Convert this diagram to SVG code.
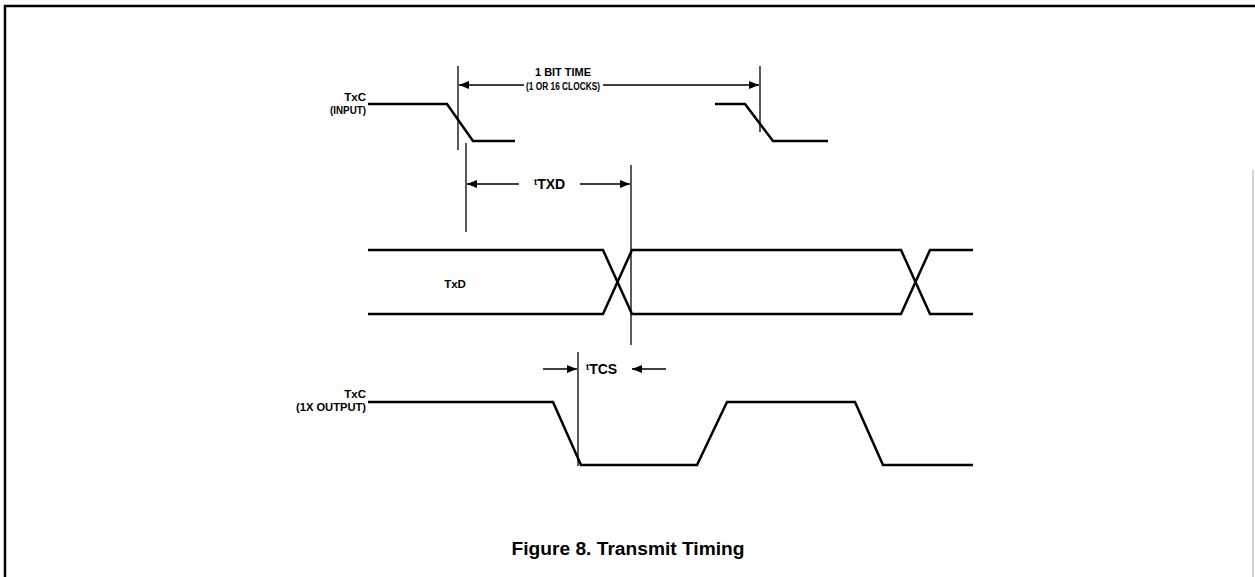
<svg xmlns="http://www.w3.org/2000/svg" width="1255" height="577" viewBox="0 0 1255 577">
<style>
.sig{fill:none;stroke:#000;stroke-width:2.5;stroke-linejoin:miter}
.dim{fill:none;stroke:#000;stroke-width:1.3}
.lbl{font-family:"Liberation Sans",Arial,sans-serif;font-weight:bold;font-size:11.5px;fill:#000}
.sub{font-family:"Liberation Sans",Arial,sans-serif;font-weight:bold;font-size:14px;fill:#000}
.cap{font-family:"Liberation Sans",Arial,sans-serif;font-weight:bold;font-size:18px;fill:#000}
</style>
<defs>
<marker id="ah" viewBox="0 0 10 10" refX="10" refY="5" markerWidth="10" markerHeight="10" markerUnits="userSpaceOnUse" orient="auto">
<path d="M0,1 L10,5 L0,9 z" fill="#000"/>
</marker>
</defs>
<rect width="1255" height="577" fill="#fff"/>
<g id="frame">
<path d="M5,577 V6 H1255" fill="none" stroke="#000" stroke-width="2.5"/>
<line x1="1253" y1="170" x2="1253" y2="577" stroke="#aaa" stroke-width="1"/>
</g>
<g id="txc-input">
<text class="lbl" x="366" y="101" text-anchor="end">TxC</text>
<text class="lbl" x="366" y="114" text-anchor="end" textLength="36" lengthAdjust="spacingAndGlyphs">(INPUT)</text>
<path class="sig" d="M368,104 H447 L473,141 H515"/>
<path class="sig" d="M715,104 H745 L773,141 H828"/>
</g>
<g id="txd">
<text class="lbl" x="455" y="288" text-anchor="middle">TxD</text>
<path class="sig" d="M368,250 H603 L632,314 H901 L930,250 H973"/>
<path class="sig" d="M368,314 H603 L632,250 H901 L930,314 H973"/>
</g>
<g id="txc-output">
<text class="lbl" x="366" y="398" text-anchor="end">TxC</text>
<text class="lbl" x="366" y="411" text-anchor="end" textLength="70" lengthAdjust="spacingAndGlyphs">(1X OUTPUT)</text>
<path class="sig" d="M368,402 H553 L581,465 H697 L727,402 H855 L883,465 H973"/>
</g>
<g id="connectors">
<line class="dim" x1="458" y1="66" x2="458" y2="150"/>
<line class="dim" x1="760" y1="66" x2="760" y2="132"/>
<line class="dim" x1="466" y1="143" x2="466" y2="232"/>
<line class="dim" x1="631" y1="165" x2="631" y2="345"/>
<line class="dim" x1="578" y1="352" x2="578" y2="466"/>
<line class="dim" x1="524" y1="85" x2="459" y2="85" marker-end="url(#ah)"/>
<line class="dim" x1="603" y1="85" x2="759" y2="85" marker-end="url(#ah)"/>
<line class="dim" x1="519" y1="184" x2="467" y2="184" marker-end="url(#ah)"/>
<line class="dim" x1="580" y1="184" x2="630" y2="184" marker-end="url(#ah)"/>
<line class="dim" x1="543" y1="369" x2="577" y2="369" marker-end="url(#ah)"/>
<line class="dim" x1="666" y1="369" x2="632" y2="369" marker-end="url(#ah)"/>
</g>
<g id="dimension-labels">
<text class="lbl" x="563" y="76" text-anchor="middle" textLength="56" lengthAdjust="spacingAndGlyphs">1 BIT TIME</text>
<text class="lbl" x="563" y="90" text-anchor="middle" textLength="74" lengthAdjust="spacingAndGlyphs">(1 OR 16 CLOCKS)</text>
<text class="sub" x="534" y="189"><tspan font-size="9.5" dy="-4">t</tspan><tspan dy="4">TXD</tspan></text>
<text class="sub" x="586" y="374"><tspan font-size="9.5" dy="-4">t</tspan><tspan dy="4">TCS</tspan></text>
</g>
<g id="caption">
<text class="cap" x="628" y="555" text-anchor="middle" textLength="233" lengthAdjust="spacingAndGlyphs">Figure 8. Transmit Timing</text>
</g>
</svg>
